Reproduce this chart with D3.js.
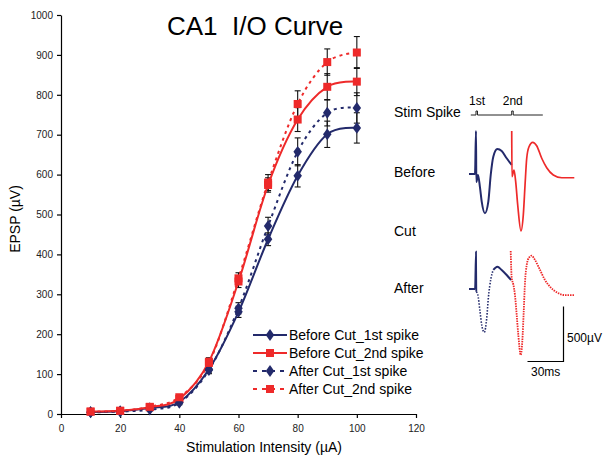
<!DOCTYPE html>
<html><head><meta charset="utf-8">
<script src="https://cdn.jsdelivr.net/npm/d3@7"></script>
<style>
body{margin:0;background:#fff;}
svg{display:block;font-family:"Liberation Sans",Arial,sans-serif;}
</style></head>
<body>
<svg id="chart" width="605" height="461"></svg>
<script>
// ---- data ----
const intensities = [10,20,30,40,50,60,70,80,90,100];
const seriesNames = ["Before Cut_1st spike","Before Cut_2nd spike","After Cut_1st spike","After Cut_2nd spike"];
const before1 = [5, 7, 15, 30, 112, 256, 438, 597, 701, 717];
const before2 = [6, 8, 17, 38, 131, 332, 574, 738, 820, 833];
const after1  = [4, 6, 11, 28, 110, 265, 471, 657, 755, 767];
const after2  = [6, 8, 18, 42, 128, 340, 580, 777, 882, 906];
const before1Err = [2, 2, 4, 5, 9, 14, 16, 28, 33, 38];
const before2Err = [3, 3, 4, 6, 10, 15, 18, 30, 33, 35];
const after1Err  = [2, 2, 3, 5, 9, 14, 22, 35, 33, 38];
const after2Err  = [3, 3, 4, 6, 10, 14, 20, 33, 33, 40];
const xTicks = [0,20,40,60,80,100,120];
const yTicks = [0,100,200,300,400,500,600,700,800,900,1000];
const rowLabels = ["Stim Spike","Before","Cut","After"];
const stimLabels = ["1st","2nd"];
const stimTimes = [5.83, 35.6];           // ms
// example traces (time ms, voltage µV relative to row baseline)
const beforeTrace1 = [[0,0],[5,0],[5.83,391],[6.1,-73],[7.5,-9],[9.2,-127],[10.6,-252],[13.3,-357],[16.1,-252],[18.1,-9],[20.25,157],[23.6,227],[27.25,209],[31.4,143],[35.6,82]];
const beforeTrace2 = [[35.6,391],[35.8,-25],[37.5,36],[38.9,-70],[40.6,-282],[43.3,-518],[45.25,-373],[46.7,-100],[48.1,143],[50,248],[53.1,288],[56.4,257],[60.6,143],[64.75,57],[70.25,-9],[77.25,-34],[87.75,-34]];
const afterTrace1a = [[0,0],[5,0],[5.83,339],[6.1,-25]];
const afterTrace1b = [[6.1,-25],[7.25,-48],[9.2,-206],[10.6,-327],[12.75,-394],[14.75,-267],[16.1,-85],[18.3,97],[20.25,173]];
const afterTrace1c = [[20.25,173],[23.6,203],[27.25,173],[31.4,127],[35,82]];
const afterTrace2  = [[34.75,345],[35.6,97],[36.9,43],[38.3,-55],[39.75,-236],[41.1,-418],[43.1,-600],[44.4,-479],[45.6,-206],[46.7,66],[48.1,218],[50,285],[52.25,303],[55,264],[59.2,173],[63.3,82],[67.5,21],[73.1,-30],[80,-55],[87.75,-55]];
const scaleBarV = 500; // µV
const scaleBarT = 30;  // ms

const NAVY = "#232a6b", RED = "#ee2a2a";

const svg = d3.select("#chart");
const x = d3.scaleLinear().domain([0,120]).range([61,416]);
const y = d3.scaleLinear().domain([0,1000]).range([414,15]);

// title
svg.append("text").attr("x",167).attr("y",35).attr("font-size",26).attr("fill","#000")
  .attr("xml:space","preserve").text("CA1  I/O Curve");

// axes
const xAxis = svg.append("g").attr("transform","translate(0,414)")
  .call(d3.axisBottom(x).tickValues(xTicks).tickSize(4).tickSizeOuter(0).tickFormat(d3.format("d")));
const yAxis = svg.append("g").attr("transform","translate(61,0)")
  .call(d3.axisLeft(y).tickValues(yTicks).tickSize(4).tickSizeOuter(0).tickFormat(d3.format("d")));
[xAxis,yAxis].forEach(g=>{
  g.selectAll("path,line").attr("stroke","#000").attr("stroke-width",1.2);
  g.selectAll("text").attr("font-size",10).attr("fill","#222").attr("font-family","'Liberation Sans',Arial,sans-serif");
});
xAxis.selectAll("text").attr("dy","1.1em");
yAxis.selectAll("text").attr("dx","-0.1em");

svg.append("text").attr("x",264).attr("y",452).attr("text-anchor","middle").attr("font-size",14)
  .text("Stimulation Intensity (µA)");
svg.append("text").attr("transform","translate(20,219) rotate(-90)").attr("text-anchor","middle").attr("font-size",14)
  .text("EPSP (µV)");

const series = [
  {vals:before1, err:before1Err, color:NAVY, dash:null, marker:"diamond"},
  {vals:before2, err:before2Err, color:RED, dash:null, marker:"square"},
  {vals:after1, err:after1Err, color:NAVY, dash:"3,4", marker:"diamond"},
  {vals:after2, err:after2Err, color:RED, dash:"3,4", marker:"square"}
];

// error bars
series.forEach(s=>{
  const g = svg.append("g").attr("stroke","#111").attr("stroke-width",1.1);
  intensities.forEach((xi,i)=>{
    const v=s.vals[i], e=s.err[i];
    g.append("line").attr("x1",x(xi)).attr("x2",x(xi)).attr("y1",y(v-e)).attr("y2",y(v+e));
    [v-e,v+e].forEach(t=>g.append("line").attr("x1",x(xi)-3).attr("x2",x(xi)+3).attr("y1",y(t)).attr("y2",y(t)));
  });
});

const line = d3.line().x(d=>x(d[0])).y(d=>y(d[1])).curve(d3.curveCardinal.tension(0));
function drawMarker(g,type,cx,cy,color){
  if(type==="square") g.append("rect").attr("x",cx-4).attr("y",cy-4).attr("width",8).attr("height",8).attr("fill",color);
  else g.append("path").attr("d",d3.symbol().type(d3.symbolDiamond).size(40)()).attr("transform",`translate(${cx},${cy}) scale(1.25,1)`).attr("fill",color);
}
series.forEach(s=>{
  const pts = intensities.map((xi,i)=>[xi,s.vals[i]]);
  svg.append("path").attr("d",line(pts)).attr("fill","none").attr("stroke",s.color)
    .attr("stroke-width",2).attr("stroke-dasharray",s.dash);
});
series.forEach(s=>{
  const g=svg.append("g");
  intensities.forEach((xi,i)=>drawMarker(g,s.marker,x(xi),y(s.vals[i]),s.color));
});

// legend
const legY = [335,353,371,389];
series.forEach((s,i)=>{
  const g=svg.append("g");
  g.append("line").attr("x1",253).attr("x2",287).attr("y1",legY[i]).attr("y2",legY[i])
    .attr("stroke",s.color).attr("stroke-width",2).attr("stroke-dasharray",s.dash? "4,5":null);
  drawMarker(g,s.marker,270,legY[i],s.color);
  g.append("text").attr("x",289).attr("y",legY[i]+5).attr("font-size",14).text(seriesNames[i]);
});

// right-side traces
const rowY = [112,172,231,288];
rowLabels.forEach((t,i)=>svg.append("text").attr("x",394).attr("y",rowY[i]+5).attr("font-size",14).text(t));

const xT = d3.scaleLinear().domain([0,30]).range([469,505]);
const yT = d3.scaleLinear().domain([0,500]).range([0,-55]);

// stim line
const stimBase = 115;
svg.append("path").attr("fill","none").attr("stroke","#222").attr("stroke-width",1)
  .attr("d", ()=>{
    let p = `M${xT(1.5)},${stimBase}`;
    stimTimes.forEach(t=>{p+=`L${xT(t)},${stimBase}L${xT(t)},${stimBase-4}L${xT(t)+1.5},${stimBase-4}L${xT(t)+1.5},${stimBase}`;});
    p+=`L${xT(61.5)},${stimBase}`; return p;});
stimLabels.forEach((t,i)=>svg.append("text").attr("x",xT(stimTimes[i])+1).attr("y",105).attr("text-anchor","middle").attr("font-size",12).text(t));

const lin = base => d3.line().x(d=>xT(d[0])).y(d=>base+yT(d[1])).curve(d3.curveMonotoneX);
const bBase=174, aBase=289;
svg.append("path").attr("d",lin(bBase)(beforeTrace1)).attr("fill","none").attr("stroke",NAVY).attr("stroke-width",2);
svg.append("path").attr("d",lin(bBase)(beforeTrace2)).attr("fill","none").attr("stroke",RED).attr("stroke-width",1.7);
svg.append("path").attr("d",lin(aBase)(afterTrace1a)).attr("fill","none").attr("stroke",NAVY).attr("stroke-width",1.8);
svg.append("path").attr("d",lin(aBase)(afterTrace1b)).attr("fill","none").attr("stroke",NAVY).attr("stroke-width",1.6).attr("stroke-dasharray","1.5,1.5");
svg.append("path").attr("d",lin(aBase)(afterTrace1c)).attr("fill","none").attr("stroke",NAVY).attr("stroke-width",2);
svg.append("path").attr("d",lin(aBase)(afterTrace2)).attr("fill","none").attr("stroke",RED).attr("stroke-width",1.8).attr("stroke-dasharray","1.5,1");

// scale bar
const sbX = 563.5, sbY = 361.5;
svg.append("path").attr("fill","none").attr("stroke","#000").attr("stroke-width",1.2)
  .attr("d",`M${sbX},${sbY+yT(scaleBarV)}L${sbX},${sbY}L${sbX-(xT(scaleBarT)-xT(0))},${sbY}`);
svg.append("text").attr("x",567).attr("y",342).attr("font-size",12).text(scaleBarV+"µV");
svg.append("text").attr("x",531).attr("y",376).attr("font-size",12).text(scaleBarT+"ms");
</script>
</body></html>
